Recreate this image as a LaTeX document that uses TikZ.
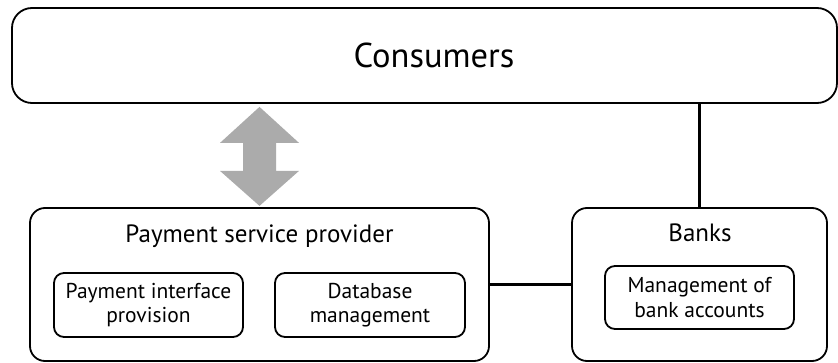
\documentclass[tikz,border=0pt]{standalone}
\usepackage{fontspec}
\setmainfont{PT Sans}
\usetikzlibrary{calc}
\tikzset{
  box/.style={draw, line width=1.8pt, inner sep=0pt, align=center},
  outerbox/.style={box, rounded corners=15pt},
  innerbox/.style={box, rounded corners=10pt, font=\fontsize{21.5}{24.5}\selectfont},
  title/.style={anchor=base, inner sep=0pt, font=\fontsize{25}{28}\selectfont},
  link/.style={line width=2.2pt},
}
\begin{document}
\begin{tikzpicture}[x=1pt, y=-1pt]
\useasboundingbox (0,0) rectangle (838,363);
% top box
\node[box, rounded corners=20pt, minimum width=825pt, minimum height=95pt] (cons) at (424.5,55.5) {};
\node[inner sep=0pt, font=\fontsize{34.5}{38}\selectfont] (consT) at (434,55) {Consumers};
% payment service provider
\node[outerbox, minimum width=459pt, minimum height=153pt] (psp) at (259.5,284.5) {};
\node[title] (pspT) at (259.5,243) {Payment service provider};
\node[innerbox, minimum width=189pt, minimum height=64pt] (pif) at (148.5,305) {Payment interface\\provision};
\node[innerbox, minimum width=190pt, minimum height=64pt] (dbm) at (370,305) {Database\\management};
% banks
\node[outerbox, minimum width=255pt, minimum height=153pt] (banks) at (699.5,284.5) {};
\node[title] (banksT) at (700,242) {Banks};
\node[innerbox, minimum width=189pt, minimum height=63pt] (mba) at (699.5,297.5) {Management of\\bank accounts};
% connectors
\draw[link] (psp.east) -- (banks.west);
\draw[link] (banks.north) -- (banks.north |- cons.south);
% two-way arrow between consumers and provider
\coordinate (at) at ($(cons.south -| psp.north)+(0,3)$);
\fill[black!33] (at) -- ++(39.5,36) -- ++(-23,0) -- ++(0,28) -- ++(23,0) -- ++(-39.5,35)
  -- ++(-39.5,-35) -- ++(23,0) -- ++(0,-28) -- ++(-23,0) -- cycle;
\end{tikzpicture}
\end{document}
